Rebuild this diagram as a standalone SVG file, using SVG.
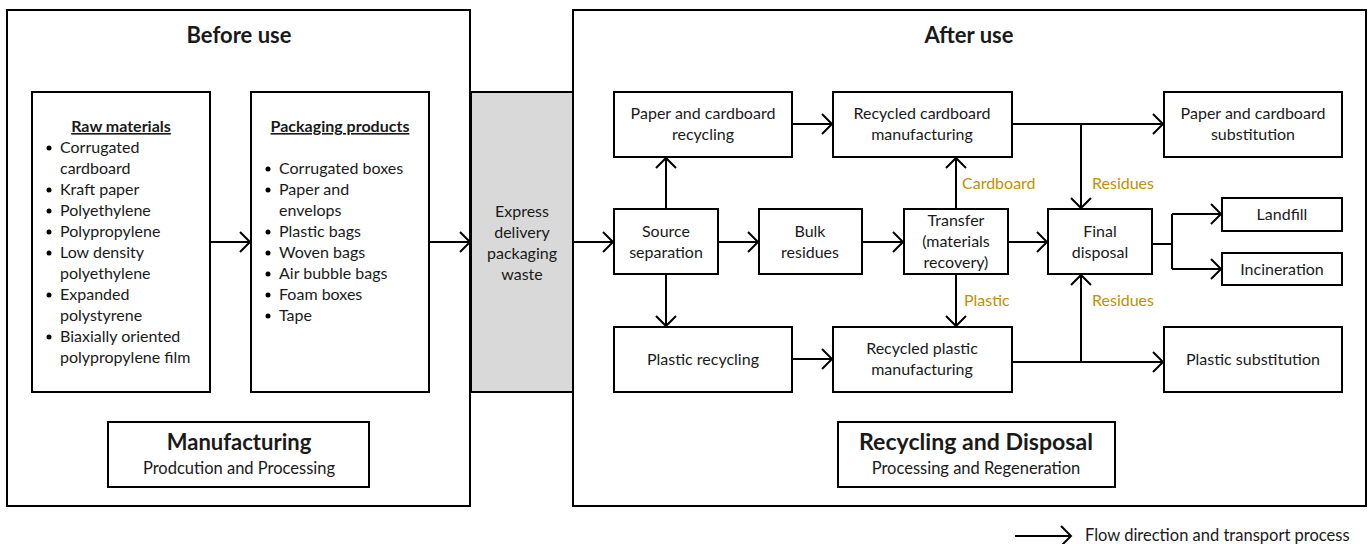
<svg xmlns="http://www.w3.org/2000/svg" width="1370" height="544" viewBox="0 0 1370 544">
<style>
text{font-family:Lato,"Open Sans","Liberation Sans",sans-serif;fill:#1a1a1a;font-size:16px}
.c{text-anchor:middle}
.t{font-weight:bold;font-size:22px}
.h{font-weight:bold;text-decoration:underline}
.s{font-size:16.5px}
.g{fill:#BF9000}
.box{fill:#fff;stroke:#000;stroke-width:2}
.gray{fill:#D9D9D9;stroke:#000;stroke-width:2}
.ln{fill:none;stroke:#000;stroke-width:2}
</style>
<defs>
<marker id="a" markerUnits="userSpaceOnUse" markerWidth="14" markerHeight="24" refX="12" refY="12" orient="auto">
<path d="M2,2 L12,12 L2,22" fill="none" stroke="#000" stroke-width="2"/>
</marker>
</defs>
<g id="before-use">
<rect class="box" x="7" y="10" width="463" height="496"/>
<text class="c t" x="239" y="43">Before use</text>
</g>
<g id="after-use">
<rect class="box" x="573" y="10" width="793" height="496"/>
<text class="c t" x="969" y="43">After use</text>
</g>
<g id="raw-materials">
<rect class="box" x="32" y="92" width="178" height="300"/>
<text class="c h" x="121" y="132">Raw materials</text>
<g>
<circle cx="49" cy="148" r="2.5"/><text x="60" y="153">Corrugated</text>
<text x="60" y="174">cardboard</text>
<circle cx="49" cy="190" r="2.5"/><text x="60" y="195">Kraft paper</text>
<circle cx="49" cy="211" r="2.5"/><text x="60" y="216">Polyethylene</text>
<circle cx="49" cy="232" r="2.5"/><text x="60" y="237">Polypropylene</text>
<circle cx="49" cy="253" r="2.5"/><text x="60" y="258">Low density</text>
<text x="60" y="279">polyethylene</text>
<circle cx="49" cy="295" r="2.5"/><text x="60" y="300">Expanded</text>
<text x="60" y="321">polystyrene</text>
<circle cx="49" cy="337" r="2.5"/><text x="60" y="342">Biaxially oriented</text>
<text x="60" y="363">polypropylene film</text>
</g>
</g>
<g id="packaging-products">
<rect class="box" x="251" y="92" width="178" height="300"/>
<text class="c h" x="340" y="132">Packaging products</text>
<circle cx="268" cy="169" r="2.5"/><text x="279" y="174">Corrugated boxes</text>
<circle cx="268" cy="190" r="2.5"/><text x="279" y="195">Paper and</text>
<text x="279" y="216">envelops</text>
<circle cx="268" cy="232" r="2.5"/><text x="279" y="237">Plastic bags</text>
<circle cx="268" cy="253" r="2.5"/><text x="279" y="258">Woven bags</text>
<circle cx="268" cy="274" r="2.5"/><text x="279" y="279">Air bubble bags</text>
<circle cx="268" cy="295" r="2.5"/><text x="279" y="300">Foam boxes</text>
<circle cx="268" cy="316" r="2.5"/><text x="279" y="321">Tape</text>
</g>
<g id="manufacturing">
<rect class="box" x="108" y="422" width="261" height="65"/>
<text class="c t" x="239" y="450">Manufacturing</text>
<text class="c s" x="239" y="474">Prodcution and Processing</text>
</g>
<g id="express-waste">
<rect class="gray" x="471" y="92" width="102" height="300"/>
<text class="c" x="522" y="217">Express</text>
<text class="c" x="522" y="238">delivery</text>
<text class="c" x="522" y="259">packaging</text>
<text class="c" x="522" y="280">waste</text>
</g>
<g id="paper-recycling">
<rect class="box" x="614" y="92" width="178" height="65"/>
<text class="c" x="703" y="119">Paper and cardboard</text>
<text class="c" x="703" y="140">recycling</text>
</g>
<g id="source-separation">
<rect class="box" x="614" y="209" width="104" height="65"/>
<text class="c" x="666" y="237">Source</text>
<text class="c" x="666" y="258">separation</text>
</g>
<g id="bulk-residues">
<rect class="box" x="759" y="209" width="103" height="65"/>
<text class="c" x="810" y="237">Bulk</text>
<text class="c" x="810" y="258">residues</text>
</g>
<g id="plastic-recycling">
<rect class="box" x="614" y="327" width="178" height="65"/>
<text class="c" x="703" y="365">Plastic recycling</text>
</g>
<g id="recycled-cardboard">
<rect class="box" x="833" y="92" width="179" height="65"/>
<text class="c" x="922" y="119">Recycled cardboard</text>
<text class="c" x="922" y="140">manufacturing</text>
</g>
<g id="transfer">
<rect class="box" x="904" y="209" width="104" height="65"/>
<text class="c" x="956" y="226">Transfer</text>
<text class="c" x="956" y="247">(materials</text>
<text class="c" x="956" y="268">recovery)</text>
</g>
<g id="recycled-plastic">
<rect class="box" x="833" y="327" width="179" height="65"/>
<text class="c" x="922" y="354">Recycled plastic</text>
<text class="c" x="922" y="375">manufacturing</text>
</g>
<g id="final-disposal">
<rect class="box" x="1048" y="209" width="104" height="65"/>
<text class="c" x="1100" y="237">Final</text>
<text class="c" x="1100" y="258">disposal</text>
</g>
<g id="paper-substitution">
<rect class="box" x="1164" y="92" width="178" height="65"/>
<text class="c" x="1253" y="119">Paper and cardboard</text>
<text class="c" x="1253" y="140">substitution</text>
</g>
<g id="landfill">
<rect class="box" x="1222" y="198" width="120" height="33"/>
<text class="c" x="1282" y="220">Landfill</text>
</g>
<g id="incineration">
<rect class="box" x="1222" y="253" width="120" height="32"/>
<text class="c" x="1282" y="275">Incineration</text>
</g>
<g id="plastic-substitution">
<rect class="box" x="1164" y="327" width="178" height="65"/>
<text class="c" x="1253" y="365">Plastic substitution</text>
</g>
<g id="recycling-disposal">
<rect class="box" x="838" y="422" width="277" height="65"/>
<text class="c t" x="976" y="450" textLength="234" lengthAdjust="spacingAndGlyphs">Recycling and Disposal</text>
<text class="c s" x="976" y="474">Processing and Regeneration</text>
</g>
<g id="connectors">
<line class="ln" x1="210" y1="242" x2="250" y2="242" marker-end="url(#a)"/>
<line class="ln" x1="429" y1="242" x2="470" y2="242" marker-end="url(#a)"/>
<line class="ln" x1="573" y1="242" x2="613" y2="242" marker-end="url(#a)"/>
<line class="ln" x1="718" y1="242" x2="758" y2="242" marker-end="url(#a)"/>
<line class="ln" x1="862" y1="242" x2="903" y2="242" marker-end="url(#a)"/>
<line class="ln" x1="1008" y1="242" x2="1047" y2="242" marker-end="url(#a)"/>
<line class="ln" x1="666" y1="209" x2="666" y2="158" marker-end="url(#a)"/>
<line class="ln" x1="666" y1="274" x2="666" y2="326" marker-end="url(#a)"/>
<line class="ln" x1="792" y1="124" x2="832" y2="124" marker-end="url(#a)"/>
<line class="ln" x1="792" y1="359" x2="832" y2="359" marker-end="url(#a)"/>
<line class="ln" x1="956" y1="209" x2="956" y2="158" marker-end="url(#a)"/>
<line class="ln" x1="956" y1="274" x2="956" y2="326" marker-end="url(#a)"/>
<line class="ln" x1="1012" y1="124" x2="1163" y2="124" marker-end="url(#a)"/>
<line class="ln" x1="1081" y1="124" x2="1081" y2="208" marker-end="url(#a)"/>
<line class="ln" x1="1012" y1="362" x2="1163" y2="362" marker-end="url(#a)"/>
<line class="ln" x1="1081" y1="362" x2="1081" y2="275" marker-end="url(#a)"/>
<polyline class="ln" points="1152,244 1172,244"/>
<polyline class="ln" points="1172,214 1172,269"/>
<line class="ln" x1="1172" y1="214" x2="1221" y2="214" marker-end="url(#a)"/>
<line class="ln" x1="1172" y1="269" x2="1221" y2="269" marker-end="url(#a)"/>
<text class="g" x="962" y="189">Cardboard</text>
<text class="g" x="964" y="306">Plastic</text>
<text class="g" x="1092" y="189">Residues</text>
<text class="g" x="1092" y="306">Residues</text>
</g>
<g id="legend">
<line class="ln" x1="1015" y1="536" x2="1071" y2="536" marker-end="url(#a)"/>
<text class="s" x="1085" y="541">Flow direction and transport process</text>
</g>
</svg>
